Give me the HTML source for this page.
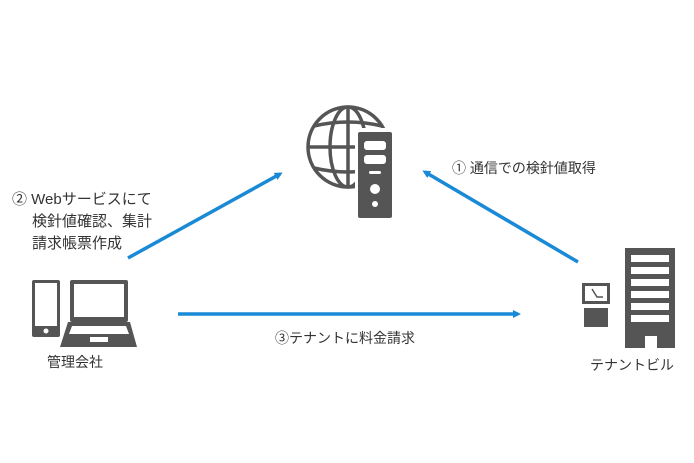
<!DOCTYPE html>
<html><head><meta charset="utf-8"><style>
body{margin:0;width:694px;height:463px;background:#fff;overflow:hidden;font-family:"Liberation Sans","Noto Sans CJK JP",sans-serif;color:#333}
.t{position:absolute;font-size:14px;line-height:22px;white-space:nowrap}
.l{font-size:15px}
</style></head><body>
<svg width="694" height="463" style="position:absolute;left:0;top:0">
<defs><marker id="a" markerWidth="8" markerHeight="8" refX="5" refY="4" orient="auto" markerUnits="userSpaceOnUse"><path d="M0,0 L8,4 L0,8 z" fill="#1a8ad6"/></marker></defs>
<g stroke="#1a8ad6" stroke-width="3.5" fill="none">
<line x1="128" y1="258" x2="280" y2="174" marker-end="url(#a)"/>
<line x1="578" y1="262" x2="425" y2="172" marker-end="url(#a)"/>
<line x1="178" y1="314" x2="518" y2="314" marker-end="url(#a)"/>
</g>
<g stroke="#555" stroke-width="3.5" fill="none">
<circle cx="348" cy="147" r="40"/>
<ellipse cx="348" cy="147" rx="18" ry="40"/>
<line x1="348" y1="107" x2="348" y2="187"/>
<line x1="308" y1="147" x2="388" y2="147"/>
<path d="M314,126 Q348,118 382,126"/><path d="M314,168 Q348,176 382,168"/>
</g>
<rect x="355" y="128" width="40" height="93" fill="#fff"/>
<rect x="358" y="132" width="34" height="86" rx="2" fill="#555"/>
<rect x="364" y="141" width="22" height="9" rx="3" fill="#fff"/>
<rect x="364" y="155" width="22" height="9" rx="3" fill="#fff"/>
<rect x="369" y="171" width="12" height="3" rx="1.5" fill="#fff"/>
<circle cx="375" cy="189" r="5" fill="#fff"/>
<circle cx="375" cy="204" r="3" fill="#fff"/>
<rect x="32" y="280" width="28" height="57" rx="2" fill="#555"/>
<rect x="35" y="283" width="22" height="43" fill="#fff"/>
<circle cx="46" cy="331" r="2.5" fill="#fff"/>
<rect x="70" y="280" width="58" height="42" rx="2" fill="#555"/>
<rect x="74" y="284" width="50" height="33" fill="#fff"/>
<path d="M68,322 L130,322 L137,347 L60,347 z" fill="#555"/>
<path d="M72,326 L126,326 L129,334 L69,334 z" fill="#fff"/>
<rect x="90" y="337" width="18" height="5" fill="#fff"/>
<rect x="582" y="283" width="28" height="21" fill="#555"/>
<rect x="585" y="286" width="22" height="15" fill="#fff"/>
<path d="M592,289 L597,297 L603,297" stroke="#555" stroke-width="1.5" fill="none"/>
<rect x="584" y="308" width="24" height="19" fill="#555"/>
<rect x="625" y="248" width="50" height="100" fill="#555"/>
<g fill="#fff">
<rect x="631" y="255" width="38" height="7"/><rect x="631" y="267" width="38" height="7"/>
<rect x="631" y="279" width="38" height="7"/><rect x="631" y="291" width="38" height="7"/>
<rect x="631" y="303" width="38" height="7"/><rect x="631" y="315" width="38" height="7"/>
<rect x="645" y="336" width="12" height="12"/>
</g>
</svg>
<div class="t l" style="left:12px;top:189px">② Webサービスにて</div>
<div class="t l" style="left:32px;top:211px">検針値確認、集計</div>
<div class="t l" style="left:32px;top:233px">請求帳票作成</div>
<div class="t" style="left:47px;top:351px">管理会社</div>
<div class="t" style="left:452px;top:157px">① 通信での検針値取得</div>
<div class="t" style="left:275px;top:327px">③テナントに料金請求</div>
<div class="t" style="left:590px;top:354px">テナントビル</div>
</body></html>
